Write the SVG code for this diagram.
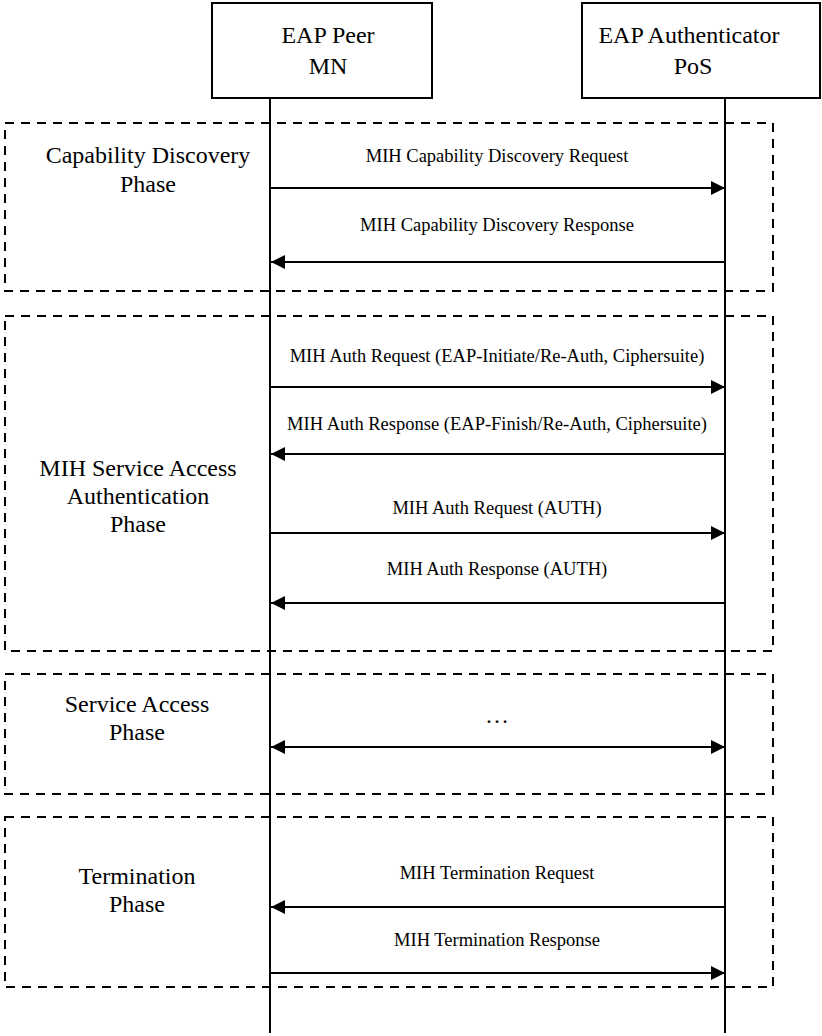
<svg xmlns="http://www.w3.org/2000/svg" width="822" height="1036" viewBox="0 0 822 1036">
<style>
.box{fill:#fff;stroke:#000;stroke-width:2}
.life{stroke:#000;stroke-width:2;fill:none}
.phase{fill:none;stroke:#000;stroke-width:2;stroke-dasharray:9 7}
.msg{stroke:#000;stroke-width:2;fill:none}
.hdr{font-family:"Liberation Serif","Times New Roman",serif;font-size:24px;fill:#000;text-anchor:middle}
.ph{font-family:"Liberation Serif","Times New Roman",serif;font-size:24px;fill:#000;text-anchor:middle}
.lbl{font-family:"Liberation Serif","Times New Roman",serif;font-size:18.5px;fill:#000;text-anchor:middle}
</style>
<defs>
<marker id="ah" markerUnits="userSpaceOnUse" markerWidth="14" markerHeight="14" refX="14" refY="7" orient="auto-start-reverse" viewBox="0 0 14 14">
<path d="M0,0 L14,7 L0,14 z" fill="#000"/>
</marker>
</defs>
<g id="phases">
<rect id="phase-capability" class="phase" x="5" y="123" width="768" height="168"/>
<rect id="phase-auth" class="phase" x="5" y="316" width="768" height="335"/>
<rect id="phase-service" class="phase" x="5" y="674" width="768" height="120"/>
<rect id="phase-termination" class="phase" x="5" y="817" width="768" height="170"/>
<text class="ph" x="148" y="163">Capability Discovery</text>
<text class="ph" x="148" y="192">Phase</text>
<text class="ph" x="138" y="476">MIH Service Access</text>
<text class="ph" x="138" y="504">Authentication</text>
<text class="ph" x="138" y="532">Phase</text>
<text class="ph" x="137" y="712">Service Access</text>
<text class="ph" x="137" y="740">Phase</text>
<text class="ph" x="137" y="884">Termination</text>
<text class="ph" x="137" y="912">Phase</text>
</g>
<g id="peer">
<rect class="box" x="212" y="3" width="220" height="95"/>
<text class="hdr" x="328" y="43">EAP Peer</text>
<text class="hdr" x="328" y="74">MN</text>
<line class="life" x1="270" y1="98" x2="270" y2="1033"/>
</g>
<g id="authenticator">
<rect class="box" x="582" y="3" width="238" height="95"/>
<text class="hdr" x="689" y="43">EAP Authenticator</text>
<text class="hdr" x="693" y="74">PoS</text>
<line class="life" x1="725" y1="98" x2="725" y2="1033"/>
</g>
<g id="connectors">
<line class="msg" x1="270" y1="188" x2="725" y2="188" marker-end="url(#ah)"/>
<text class="lbl" x="497" y="162">MIH Capability Discovery Request</text>
<line class="msg" x1="725" y1="262" x2="271" y2="262" marker-end="url(#ah)"/>
<text class="lbl" x="497" y="231">MIH Capability Discovery Response</text>
<line class="msg" x1="270" y1="387" x2="725" y2="387" marker-end="url(#ah)"/>
<text class="lbl" x="497" y="362">MIH Auth Request (EAP-Initiate/Re-Auth, Ciphersuite)</text>
<line class="msg" x1="725" y1="454" x2="271" y2="454" marker-end="url(#ah)"/>
<text class="lbl" x="497" y="430">MIH Auth Response (EAP-Finish/Re-Auth, Ciphersuite)</text>
<line class="msg" x1="270" y1="533" x2="725" y2="533" marker-end="url(#ah)"/>
<text class="lbl" x="497" y="514">MIH Auth Request (AUTH)</text>
<line class="msg" x1="725" y1="603" x2="271" y2="603" marker-end="url(#ah)"/>
<text class="lbl" x="497" y="575">MIH Auth Response (AUTH)</text>
<line class="msg" x1="271" y1="747" x2="725" y2="747" marker-start="url(#ah)" marker-end="url(#ah)"/>
<text class="ph" x="497" y="723">…</text>
<line class="msg" x1="725" y1="907" x2="271" y2="907" marker-end="url(#ah)"/>
<text class="lbl" x="497" y="879">MIH Termination Request</text>
<line class="msg" x1="270" y1="973" x2="725" y2="973" marker-end="url(#ah)"/>
<text class="lbl" x="497" y="946">MIH Termination Response</text>
</g>
</svg>
